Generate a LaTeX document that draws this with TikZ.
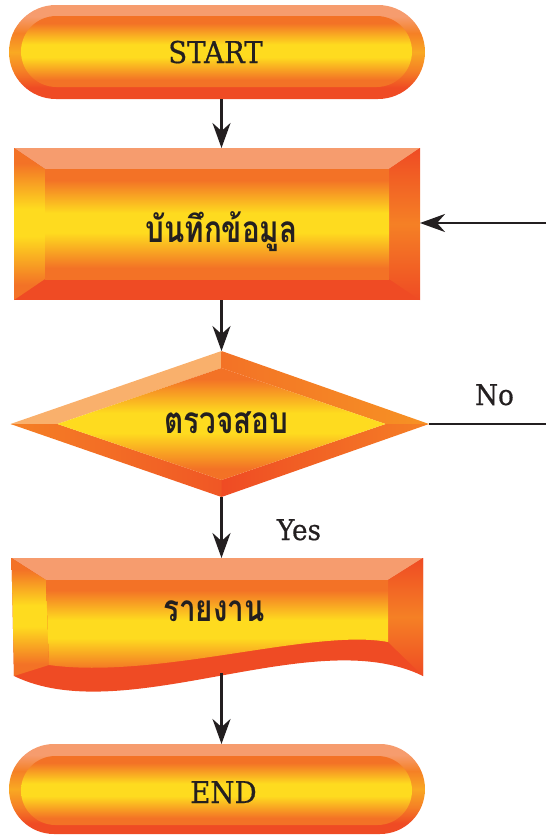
\documentclass[tikz,border=0pt]{standalone}
\usepackage{fontspec}
\setmainfont{DejaVu Serif}[FakeStretch=0.92, FakeBold=0.6]
\newfontfamily\thaifont[Script=Thai, FakeStretch=0.8]{Loma}
\usetikzlibrary{arrows.meta}
\definecolor{og}{HTML}{F37226}
\definecolor{yl}{HTML}{FEDB1F}
\definecolor{sal}{HTML}{F69C6E}
\definecolor{rd}{HTML}{EF4B24}
\definecolor{org2}{HTML}{F58025}
\definecolor{peach}{HTML}{F9B06C}
\definecolor{ink}{HTML}{231F20}
\pgfdeclareverticalshading{fillgrad}{100bp}{color(0bp)=(og); color(25bp)=(og); color(30bp)=(og); color(46bp)=(yl); color(55bp)=(yl); color(70bp)=(og); color(100bp)=(og)}
\pgfdeclareverticalshading{rightgrad}{100bp}{color(0bp)=(rd); color(25bp)=(rd); color(50bp)=(org2); color(75bp)=(rd); color(100bp)=(rd)}
\pgfdeclareverticalshading{rimgrad}{100bp}{color(0bp)=(rd); color(31bp)=(rd); color(40bp)=(org2); color(50bp)=(yl!45!org2); color(60bp)=(org2); color(69bp)=(sal); color(100bp)=(sal)}
\tikzset{
 arr/.style={draw=ink, line width=2.7pt, -{Stealth[length=25pt,width=18pt,inset=8pt]}},
 ln/.style={draw=ink, line width=2pt},
 ghost/.style={draw=none, fill=none, inner sep=0pt, outer sep=0pt, rectangle},
 lbl/.style={font=\fontsize{30}{32}\selectfont, text=ink, inner sep=0pt},
 small/.style={font=\fontsize{28.5}{30}\selectfont, text=ink, inner sep=0pt},
 thai/.style={font=\thaifont\bfseries\fontsize{37}{39}\selectfont, text=ink, inner sep=0pt},
}
\begin{document}
\begin{tikzpicture}[x=1pt,y=-1pt]
\useasboundingbox (0,0) rectangle (546,835);
\coordinate (ax) at (221.5,0);
% START terminator
\path[shading=rimgrad, rounded corners=47pt] (9,5) rectangle (425,99);
\path[shading=fillgrad, rounded corners=35.5pt] (21,16) rectangle (412,87);
\node[ghost, minimum width=416pt, minimum height=94pt] (start) at (217,52) {};
\node[lbl, anchor=base] (starttxt) at (215.5,63) {START};
% process box
\fill[rd] (14,148) rectangle (420,300);
\fill[sal] (14,148) -- (420,148) -- (389,169) -- (45,169) -- cycle;
\path[shading=fillgrad] (14,148) -- (45,169) -- (45,279) -- (14,300) -- cycle;
\path[shading=rightgrad] (420,148) -- (420,300) -- (389,279) -- (389,169) -- cycle;
\path[shading=fillgrad] (45,169) rectangle (389,279);
\node[ghost, minimum width=406pt, minimum height=152pt] (proc) at (217,224) {};
\node[thai, anchor=base] (proctxt) at (221.5,242) {บันทึกข้อมูล};
% decision diamond
\fill[peach] (10.5,424) -- (221.5,351) -- (221.5,368) -- (57.5,424) -- cycle;
\path[left color=og, right color=org2!80!yl] (221.5,351) -- (429,424) -- (385.5,424) -- (221.5,368) -- cycle;
\path[left color=rd, right color=org2] (429,424) -- (221.5,497) -- (221.5,480) -- (385.5,424) -- cycle;
\path[left color=org2, right color=rd!70!og] (221.5,497) -- (10.5,424) -- (57.5,424) -- (221.5,480) -- cycle;
\path[shading=fillgrad] (221.5,368) -- (385.5,424) -- (221.5,480) -- (57.5,424) -- cycle;
\node[ghost, minimum width=418.5pt, minimum height=146pt] (dec) at (219.75,424) {};
\node[thai, anchor=base] (dectxt) at (226.5,433) {ตรวจสอบ};
% document shape
\fill[rd] (11.5,558) -- (423,558) -- (423,676) .. controls (313,622) and (125,730) .. (14,676) -- cycle;
\fill[sal] (11.5,558) -- (423,558) -- (388,580) -- (46,580) -- cycle;
\path[shading=fillgrad] (11.5,558) -- (46,580) -- (49,665) -- (14,676) -- cycle;
\path[shading=rightgrad] (423,558) -- (423,676) -- (388,642) -- (388,580) -- cycle;
\path[shading=fillgrad] (46,580) -- (388,580) -- (388,642) .. controls (313,628) and (157,680) .. (49,665) -- cycle;
\node[ghost, minimum width=411.5pt, minimum height=115pt] (doc) at (217.25,615.5) {};
\node[thai, anchor=base] (doctxt) at (214,621) {รายงาน};
\coordinate (docS) at (221.5,673);
% END terminator
\path[shading=rimgrad, rounded corners=45pt] (9,744) rectangle (425,834);
\path[shading=fillgrad, rounded corners=34.5pt] (21,756) rectangle (412,825);
\node[ghost, minimum width=416pt, minimum height=90pt] (end) at (217,789) {};
\node[lbl, anchor=base] (endtxt) at (223.5,803) {END};
% connectors
\draw[arr] (start.south -| ax) -- (proc.north -| ax);
\draw[arr] (proc.south -| ax) -- (dec.north -| ax);
\draw[arr] (dec.south -| ax) -- (doc.north -| ax);
\draw[arr] (docS) -- (end.north -| ax);
\coordinate (inR) at (546,223);
\draw[arr] (inR) -- (inR -| proc.east);
\coordinate (noR) at (546,424);
\draw[ln] (dec.east) -- (noR);
\node[small, anchor=base] (nolbl) at (494.5,405) {No};
\node[small, anchor=base] (yeslbl) at (299,540) {Yes};
\end{tikzpicture}
\end{document}
